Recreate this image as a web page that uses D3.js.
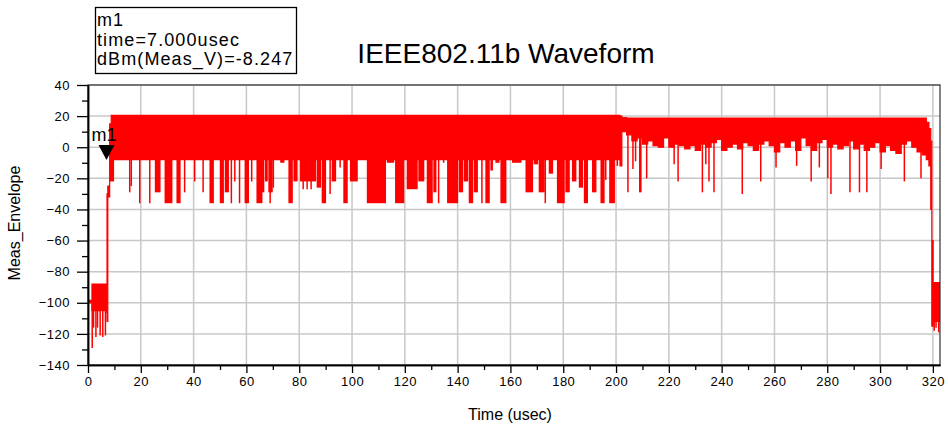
<!DOCTYPE html>
<html>
<head>
<meta charset="utf-8">
<script src="https://cdn.jsdelivr.net/npm/d3@7"></script>
<style>
  body { margin: 0; background: #fff; }
  text { font-family: "Liberation Sans", Arial, sans-serif; }
</style>
</head>
<body>
<div id="chart"></div>
<script>
// axis ticks
var xTicks = [0, 20, 40, 60, 80, 100, 120, 140, 160, 180, 200, 220, 240, 260, 280, 300, 320];
var xMinor = [10, 30, 50, 70, 90, 110, 130, 150, 170, 190, 210, 230, 250, 270, 290, 310];
var yTicks = [-140, -120, -100, -80, -60, -40, -20, 0, 20, 40];
var yMinor = [-130, -110, -90, -70, -50, -30, -10, 10, 30];

// envelope of the dense part of the trace: [time, top, bottom]
var envelope = [
    [0, -98.5, -100], [1.4, -98.5, -100], [1.5, -88, -105], [7.0, -88, -106],
    [7.2, -30, -112], [7.5, -25, -32], [8.2, 15, -20], [8.8, 20.5, -12], [9.6, 20.5, -8],
    [200.5, 20.5, -8], [201.5, 20, -12], [202.2, 19, 10], [204, 18.8, 8], [206, 18.8, 4],
    [208, 18.8, 6], [210, 18.8, 2], [212, 18.8, 4], [214, 18.8, 1], [216, 18.8, 0],
    [218, 18.8, 6], [220, 18.8, 0], [222, 18.8, 2], [224, 18.8, 1], [226, 18.8, -1],
    [228, 18.8, 1], [230, 18.8, -2], [232, 18.8, 2], [234, 18.8, 0], [236, 18.8, 3],
    [238, 18.8, 5], [240, 18.8, -2], [242, 18.8, 0], [244, 18.8, 2], [246, 18.8, -1],
    [248, 18.8, 3], [250, 18.8, 1], [252, 18.8, -2], [254, 18.8, 2], [256, 18.8, 4],
    [258, 18.8, 1], [260, 18.8, -3], [262, 18.8, 3], [264, 18.8, 0], [266, 18.8, 4],
    [268, 18.8, -2], [270, 18.8, 6], [272, 18.8, 1], [274, 18.8, -2], [276, 18.8, 3],
    [278, 18.8, 5], [280, 18.8, 0], [282, 18.8, 2], [284, 18.8, -1], [286, 18.8, 1],
    [288, 18.8, 4], [290, 18.8, -1], [292, 18.8, 2], [294, 18.8, -2], [296, 18.8, 0],
    [298, 18.8, 3], [300, 18.8, -3], [302, 18.8, 1], [304, 18.8, -2], [306, 18.8, -4],
    [308, 18.8, 2], [310, 18.8, 4], [312, 18.8, 0], [314, 18.8, -3], [316, 18.8, -5],
    [317.5, 16, -8], [318.5, 12, -12], [319.2, 4, -40], [319.6, -60, -115],
    [320.1, -87, -112], [322.7, -88, -108]
];

// single spikes / clusters below the envelope: [t0, t1, depth]
var startDips = [[1.6, 1.6, -129], [2.1, 2.1, -116], [3.0, 3.0, -122], [3.6, 3.6, -116],
    [4.6, 4.6, -121], [5.6, 5.6, -122], [6.6, 6.6, -121]];
var mainDips = [
    [8.3, 9.5, -22], [15.8, 15.8, -29], [16.4, 16.4, -25], [19.6, 19.6, -36], [23.4, 23.4, -36],
    [25.3, 27.1, -29], [29.0, 31.6, -36], [33.5, 34.7, -36], [36.6, 36.6, -29], [40.4, 40.4, -22],
    [43.6, 43.6, -29], [46.0, 47.3, -36], [49.9, 51.1, -36], [51.8, 53.0, -29], [54.3, 54.3, -36],
    [55.6, 55.6, -22], [57.4, 57.4, -36], [59.3, 60.6, -36], [62.0, 62.0, -22], [63.8, 65.7, -36],
    [65.2, 66.4, -29], [67.0, 67.7, -22], [68.3, 69.6, -29], [69.0, 69.0, -36], [70.2, 70.2, -26],
    [72.8, 74.0, -10], [75.9, 77.2, -36], [77.8, 79.0, -22], [80.3, 86.0, -22], [81.5, 81.5, -27],
    [83.0, 83.0, -27], [84.5, 84.5, -27], [86.6, 87.9, -26], [88.5, 89.8, -36], [91.7, 91.7, -30],
    [92.3, 93.6, -22], [95.5, 95.5, -13], [96.7, 98.0, -36], [99.2, 101.8, -22], [105.6, 112.5, -36],
    [113.2, 115.6, -10], [116.3, 119.4, -36], [120.7, 124.5, -27], [125.1, 127.0, -22],
    [128.3, 130.2, -36], [130.8, 131.6, -29], [132.8, 132.8, -36], [134.7, 134.7, -10],
    [136.0, 139.8, -36], [140.4, 141.7, -29], [142.3, 143.6, -22], [144.2, 145.5, -36],
    [146.1, 147.3, -29], [149.2, 149.2, -36], [150.5, 151.8, -36], [152.4, 153.0, -15],
    [154.3, 155.5, -10], [156.2, 158.1, -36], [160.6, 163.8, -10], [165.7, 168.2, -29],
    [168.8, 170.1, -11], [170.7, 172.6, -29], [173.2, 173.2, -36], [174.5, 175.8, -17],
    [177.6, 180.2, -36], [180.8, 182.1, -29], [183.3, 184.6, -22], [185.9, 187.1, -26],
    [187.8, 189.0, -36], [190.9, 192.2, -29], [194.1, 195.3, -36], [196.1, 196.1, -21],
    [197.4, 199.2, -36], [200.5, 200.5, -12]
];
var tailDips = [
    [204.5, 204.5, -29], [206.4, 206.4, -14], [207.4, 207.4, -9], [208.7, 209.3, -29],
    [211.6, 211.6, -20], [222.0, 222.0, -11], [223.5, 223.5, -22], [232.7, 232.7, -29],
    [234.0, 234.0, -11], [235.2, 235.2, -22], [237.1, 237.1, -29], [247.8, 247.8, -30],
    [254.8, 254.8, -22], [260.6, 260.6, -13], [268.4, 268.4, -12], [273.9, 273.9, -22],
    [277.0, 277.0, -13], [280.2, 280.2, -20], [281.4, 281.4, -30], [288.6, 288.6, -29],
    [292.2, 292.2, -29], [295.0, 295.0, -29], [300.4, 300.4, -14], [309.2, 309.2, -22],
    [315.5, 315.5, -20]
];
var endDips = [[320.5, 320.5, -118], [321.2, 321.2, -116], [322.2, 322.2, -119]];

var markerTime = 7.0;
var markerValue = -8.247;

var margin = { top: 85, right: 8, bottom: 61, left: 88 };
var width = 948 - margin.left - margin.right;
var height = 426 - margin.top - margin.bottom;

var svg = d3.select("#chart")
    .append("svg")
    .attr("width", 948)
    .attr("height", 426);
var g = svg.append("g")
    .attr("transform", "translate(" + margin.left + "," + margin.top + ")");

var x = d3.scaleLinear().domain([0, 322.7]).range([0, width]);
var y = d3.scaleLinear().domain([-140, 40]).range([height, 0]);

// grid
g.selectAll(".vgrid").data(xTicks).enter().append("line")
    .attr("x1", function (d) { return x(d); }).attr("x2", function (d) { return x(d); })
    .attr("y1", 0).attr("y2", height)
    .attr("stroke", "#c8c8c8").attr("stroke-width", 1.5);
g.selectAll(".hgrid").data(yTicks).enter().append("line")
    .attr("x1", 0).attr("x2", width)
    .attr("y1", function (d) { return y(d); }).attr("y2", function (d) { return y(d); })
    .attr("stroke", "#c8c8c8").attr("stroke-width", 1.5);

// trace
g.append("clipPath").attr("id", "clip").append("rect")
    .attr("width", width).attr("height", height);
var trace = g.append("g").attr("clip-path", "url(#clip)");

var area = d3.area()
    .curve(d3.curveStepAfter)
    .x(function (d) { return x(d[0]); })
    .y0(function (d) { return y(d[2]); })
    .y1(function (d) { return y(d[1]); });

trace.append("path")
    .datum(envelope)
    .attr("d", area)
    .attr("fill", "#ff0000")
    .attr("stroke", "#ff0000")
    .attr("stroke-width", 1.2);

function drawDips(list, base) {
    list.forEach(function (d) {
        if (d[0] === d[1]) {
            trace.append("line")
                .attr("x1", x(d[0])).attr("x2", x(d[0]))
                .attr("y1", y(base)).attr("y2", y(d[2]))
                .attr("stroke", "#ff0000").attr("stroke-width", 1.5);
        } else {
            trace.append("rect")
                .attr("x", x(d[0]))
                .attr("width", x(d[1]) - x(d[0]) + 1)
                .attr("y", y(base))
                .attr("height", y(d[2]) - y(base))
                .attr("fill", "#ff0000");
        }
    });
}
drawDips(startDips, -100);
drawDips(mainDips, 0);
drawDips(tailDips, 10);
drawDips(endDips, -100);

// frame
g.append("rect")
    .attr("width", width).attr("height", height)
    .attr("fill", "none").attr("stroke", "#333").attr("stroke-width", 1.2);

// axes
g.append("g")
    .attr("transform", "translate(0," + height + ")")
    .call(d3.axisBottom(x).tickValues(xTicks).tickSize(8).tickPadding(4).tickSizeOuter(0));
g.append("g")
    .attr("transform", "translate(0," + height + ")")
    .call(d3.axisBottom(x).tickValues(xMinor).tickSize(5).tickFormat("").tickSizeOuter(0));
g.append("g")
    .call(d3.axisLeft(y).tickValues(yTicks).tickSize(11).tickPadding(7).tickSizeOuter(0));
g.append("g")
    .call(d3.axisLeft(y).tickValues(yMinor).tickSize(6).tickFormat("").tickSizeOuter(0));

g.selectAll(".domain").attr("stroke", "#000").attr("stroke-width", 1.5);
g.selectAll(".tick line").attr("stroke", "#000").attr("stroke-width", 1.3);
g.selectAll(".tick text")
    .style("font-family", "'Liberation Sans', Arial, sans-serif")
    .style("font-size", "13px")
    .style("letter-spacing", "0.5px")
    .attr("fill", "#000");

// axis titles
svg.append("text")
    .attr("x", 510).attr("y", 420)
    .attr("text-anchor", "middle")
    .style("font-size", "16px")
    .text("Time (usec)");
svg.append("text")
    .attr("transform", "translate(20,223) rotate(-90)")
    .attr("text-anchor", "middle")
    .style("font-size", "16px")
    .text("Meas_Envelope");

// title
svg.append("text")
    .attr("x", 506).attr("y", 63)
    .attr("text-anchor", "middle")
    .style("font-size", "28px")
    .text("IEEE802.11b Waveform");

// marker
var mx = margin.left + x(markerTime);
var my = margin.top + y(markerValue);
svg.append("path")
    .attr("d", "M" + (mx - 8) + "," + (my - 15) + "L" + (mx + 8) + "," + (my - 15) + "L" + mx + "," + my + "Z")
    .attr("fill", "#000");
svg.append("text")
    .attr("x", mx - 15).attr("y", my - 19)
    .style("font-size", "18px")
    .text("m1");

// marker readout box
svg.append("rect")
    .attr("x", 95.5).attr("y", 7.5).attr("width", 201).attr("height", 66)
    .attr("fill", "#fff").attr("stroke", "#000").attr("stroke-width", 1.3);
var readout = ["m1", "time=" + markerTime.toFixed(3) + "usec", "dBm(Meas_V)=" + markerValue.toFixed(3)];
svg.selectAll(".readout").data(readout).enter().append("text")
    .attr("x", 97)
    .attr("y", function (d, i) { return 26 + i * 19.5; })
    .style("font-size", "18px")
    .style("letter-spacing", "1.1px")
    .text(function (d) { return d; });
</script>
</body>
</html>
